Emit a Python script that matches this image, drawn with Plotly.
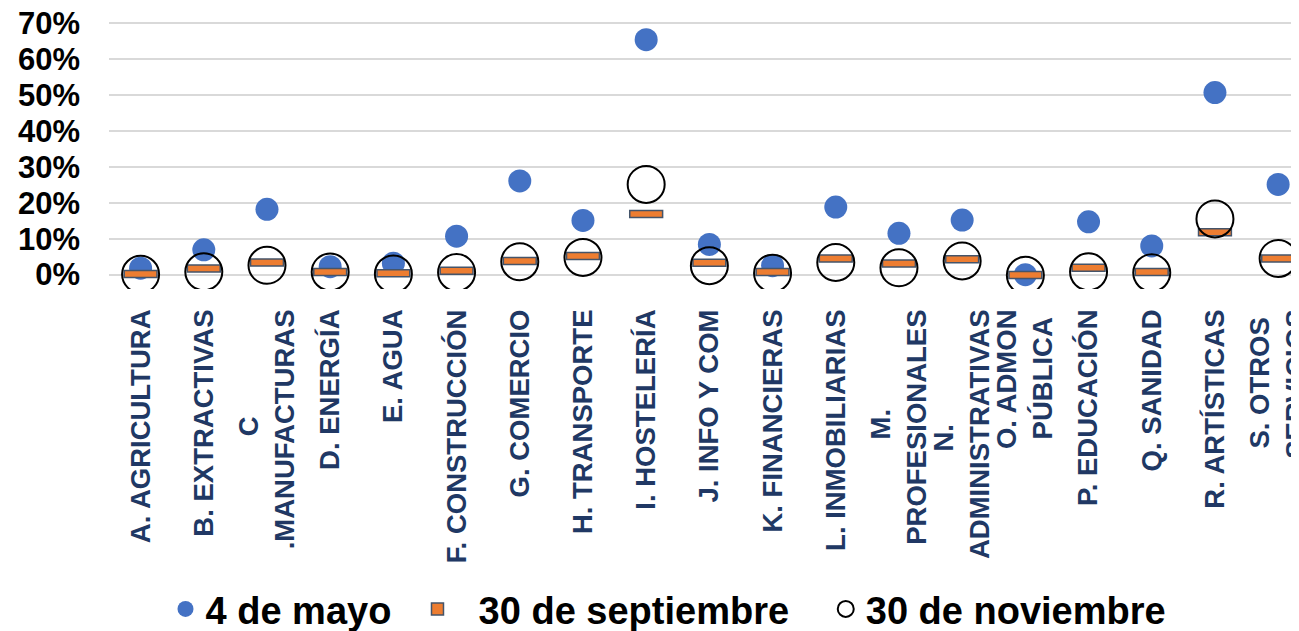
import plotly.graph_objects as go

categories = [
    "A. AGRICULTURA", "B. EXTRACTIVAS", "C<br>.MANUFACTURAS", "D. ENERGÍA",
    "E. AGUA", "F. CONSTRUCCIÓN", "G. COMERCIO", "H. TRANSPORTE",
    "I. HOSTELERÍA", "J. INFO Y COM", "K. FINANCIERAS", "L. INMOBILIARIAS",
    "M.<br>PROFESIONALES", "N.<br>ADMINISTRATIVAS", "O. ADMON<br>PÚBLICA",
    "P. EDUCACIÓN", "Q. SANIDAD", "R. ARTÍSTICAS", "S. OTROS<br>SERVICIOS",
]
mayo = [1.8, 6.9, 18.2, 2.2, 3.2, 10.7, 26.1, 15.1, 65.4, 8.4, 2.5, 18.8,
        11.5, 15.2, 0.0, 14.7, 8.0, 50.7, 25.1]
septiembre = [0.2, 1.7, 3.4, 0.7, 0.4, 1.1, 3.8, 5.2, 16.9, 3.3, 0.75, 4.5,
              3.1, 4.3, -0.1, 1.9, 0.75, 11.8, 4.5]
noviembre = [0.1, 0.8, 2.6, 0.75, 0.2, 0.6, 3.6, 4.8, 25.1, 2.5, 0.4, 3.4,
             1.9, 3.8, -0.2, 0.8, 0.5, 15.5, 4.5]
series_names = ["4 de mayo", "30 de septiembre", "30 de noviembre"]
y_ticks = [0, 10, 20, 30, 40, 50, 60, 70]

FONT = "Liberation Sans"
NBSP = "\u00a0"
DASH_H = 1.95  # dash thickness in axis units (%)

# approximate bold sans glyph widths (em) used to centre multi-line labels
_W = {c: 0.722 for c in "ABCDHKNRUÁÚ"}
_W.update({c: 0.667 for c in "EPSVXYÉ"})
_W.update({c: 0.611 for c in "FLTZ"})
_W.update({c: 0.778 for c in "GOQÓ"})
_W.update({c: 0.278 for c in "IÍ. " + NBSP})
_W.update({"M": 0.833, "J": 0.556, "W": 0.944})


def _width(s):
    return sum(_W.get(c, 0.65) for c in s)


def centre_lines(label):
    lines = label.split("<br>")
    if len(lines) < 2:
        return label
    wmax = max(_width(l) for l in lines)
    out = []
    for l in lines:
        pad = int(round((wmax - _width(l)) / 2 / _W[NBSP]))
        out.append(l + NBSP * pad)
    return "<br>".join(out)


tick_text = [centre_lines(c) for c in categories]
legend_names = [
    series_names[0] + NBSP * 2,
    NBSP * 2 + series_names[1] + NBSP * 3,
    series_names[2],
]

fig = go.Figure()
fig.add_trace(go.Scatter(
    x=categories, y=mayo, mode="markers", name=legend_names[0],
    marker=dict(color="#4472C4", size=23, line=dict(width=0)),
    cliponaxis=False, zorder=0,
))
fig.add_trace(go.Bar(
    x=categories, y=[DASH_H] * len(septiembre),
    base=[v - DASH_H / 2 for v in septiembre],
    name=legend_names[1], width=0.52,
    marker=dict(color="#ED7D31", line=dict(color="#44546A", width=1.5)),
    zorder=1,
))
fig.add_trace(go.Scatter(
    x=categories, y=noviembre, mode="markers", name=legend_names[2],
    marker=dict(color="rgba(255,255,255,0)", size=37,
                line=dict(color="black", width=2)),
    cliponaxis=False, zorder=2,
))

# page body adds an 8px offset, so the figure is 8px smaller than the window
fig.update_layout(
    width=1291, height=623,
    margin=dict(l=101, r=0, t=7.5, b=342),
    plot_bgcolor="white", paper_bgcolor="white",
    font=dict(family=FONT),
    showlegend=True,
    legend=dict(
        orientation="h", x=0.122, xanchor="left", xref="container",
        y=0.035, yanchor="middle", yref="container",
        font=dict(size=38, color="black", family=FONT, weight="bold"),
        itemsizing="trace", traceorder="normal",
    ),
    barmode="overlay",
)
fig.update_xaxes(
    type="category", range=[-0.5, 18.33], automargin=False,
    tickmode="array", tickvals=categories, ticktext=tick_text,
    tickangle=-90, showgrid=False, zeroline=False, showline=False,
    ticks="", ticklabelstandoff=14,
    tickfont=dict(size=27.5, color="#203864", family=FONT, weight="bold"),
)
fig.update_yaxes(
    range=[-4, 72], tickvals=y_ticks, ticktext=[f"{v}%" for v in y_ticks],
    automargin=False, ticklabeloverflow="allow",
    showgrid=True, gridcolor="#D9D9D9", gridwidth=1.5,
    zeroline=False, showline=False, ticks="", ticklabelstandoff=28,
    tickfont=dict(size=31, color="black", family=FONT, weight="bold"),
)

fig.write_html("out.html")
